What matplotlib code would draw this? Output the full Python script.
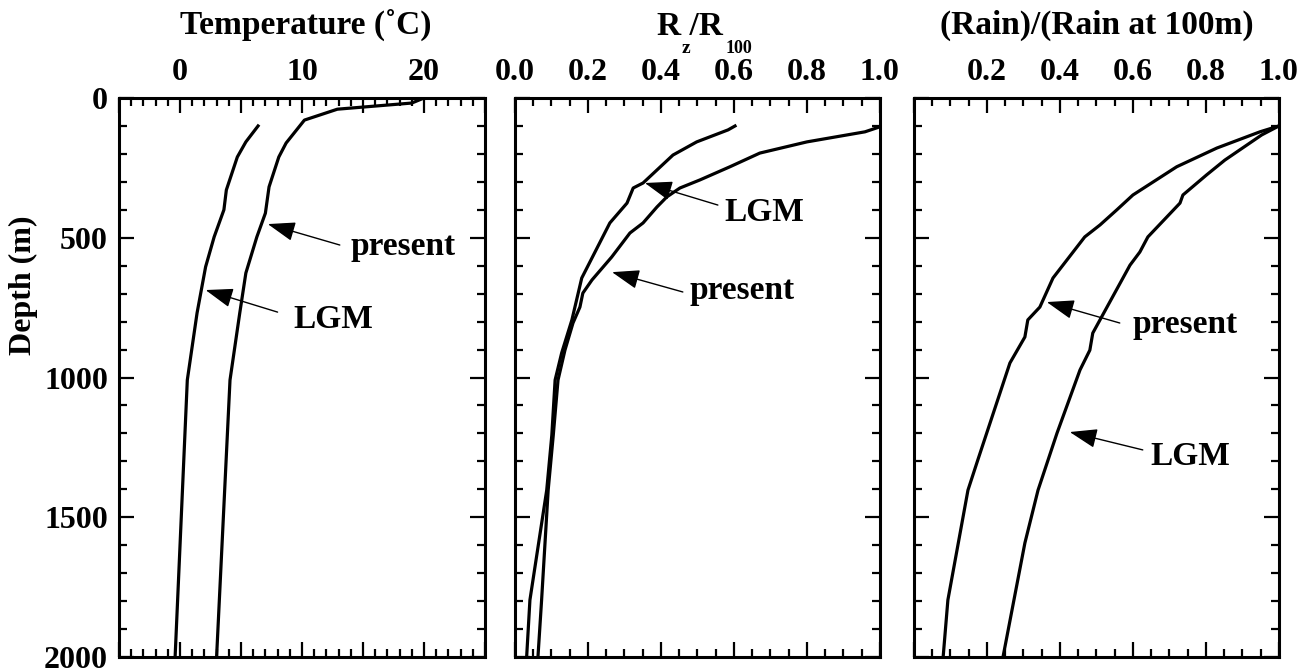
import matplotlib
matplotlib.use('Agg')
import matplotlib.pyplot as plt
from matplotlib.ticker import MultipleLocator

plt.rcParams['font.family'] = ['Liberation Serif', 'DejaVu Serif']
plt.rcParams['font.weight'] = 'bold'

# Temperature profiles (depth in m, temperature in deg C)
temp_present_depth = [0, 18, 40, 79, 161, 211, 318, 412, 497, 626, 769, 1009, 2000]
temp_present = [20.0, 19.0, 12.9, 10.2, 8.7, 8.1, 7.3, 7.0, 6.3, 5.4, 4.9, 4.1, 3.0]
temp_lgm_depth = [100, 157, 211, 329, 400, 497, 604, 769, 1009, 2000]
temp_lgm = [6.4, 5.4, 4.7, 3.8, 3.6, 2.8, 2.1, 1.4, 0.6, -0.4]

# R_z / R_100 profiles
r_present_depth = [103, 121, 157, 197, 246, 293, 322, 354, 390, 447, 483, 569, 651,
                   698, 748, 805, 902, 1009, 1206, 1403, 1796, 2000]
r_present = [1.0, 0.959, 0.800, 0.671, 0.589, 0.507, 0.452, 0.416, 0.389, 0.351, 0.315,
             0.265, 0.211, 0.186, 0.178, 0.159, 0.137, 0.118, 0.105, 0.091, 0.073, 0.063]
r_lgm_depth = [100, 114, 157, 204, 304, 322, 376, 447, 644, 794, 912, 1009, 1206,
               1403, 1796, 2000]
r_lgm = [0.603, 0.584, 0.498, 0.433, 0.351, 0.324, 0.307, 0.260, 0.183, 0.156, 0.128,
         0.110, 0.101, 0.087, 0.041, 0.032]

# Rain / rain at 100 m
rain_present_depth = [100, 121, 179, 246, 347, 400, 454, 497, 644, 748, 794, 855, 948,
                      1295, 1403, 1796, 2000]
rain_present = [1.0, 0.948, 0.830, 0.720, 0.600, 0.556, 0.510, 0.468, 0.381, 0.345,
                0.312, 0.304, 0.263, 0.175, 0.148, 0.093, 0.080]
rain_lgm_depth = [100, 132, 222, 275, 347, 376, 497, 551, 598, 841, 902, 973, 1199,
                  1403, 1592, 2000]
rain_lgm = [1.0, 0.953, 0.852, 0.802, 0.737, 0.729, 0.641, 0.619, 0.592, 0.490, 0.482,
            0.455, 0.392, 0.340, 0.304, 0.244]

fig = plt.figure(figsize=(13.09, 6.69), dpi=100)
ax1 = fig.add_axes([0.0909, 0.0179, 0.2796, 0.8356])
ax2 = fig.add_axes([0.3934, 0.0179, 0.2788, 0.8356])
ax3 = fig.add_axes([0.6982, 0.0179, 0.2788, 0.8356])

lw = 2.3
ax1.plot(temp_present, temp_present_depth, color='black', lw=lw)
ax1.plot(temp_lgm, temp_lgm_depth, color='black', lw=lw)
ax2.plot(r_present, r_present_depth, color='black', lw=lw)
ax2.plot(r_lgm, r_lgm_depth, color='black', lw=lw)
ax3.plot(rain_present, rain_present_depth, color='black', lw=lw)
ax3.plot(rain_lgm, rain_lgm_depth, color='black', lw=lw)

ax1.set_xlim(-5, 25)
ax1.xaxis.set_minor_locator(MultipleLocator(1))
ax2.set_xlim(0, 1.0)
ax2.xaxis.set_minor_locator(MultipleLocator(0.05))
ax3.set_xlim(0, 1.0)
ax3.xaxis.set_minor_locator(MultipleLocator(0.05))

for ax in (ax1, ax2, ax3):
    ax.set_ylim(2000, 0)
    ax.set_yticks([0, 500, 1000, 1500, 2000])
    ax.yaxis.set_minor_locator(MultipleLocator(100))
    for s in ax.spines.values():
        s.set_linewidth(2.2)
    ax.tick_params(which='both', direction='in', top=True, bottom=True, left=True, right=True,
                   labeltop=True, labelbottom=False, width=1.6, labelsize=23)
    ax.tick_params(which='major', length=11, pad=8)
    ax.tick_params(which='minor', length=6)

# tick label text
ax1.set_xticks([-5, 0, 5, 10, 15, 20, 25])
ax1.set_xticklabels(['', '0', '', '10', '', '20', ''])
ax2.set_xticks([0, 0.2, 0.4, 0.6, 0.8, 1.0])
ax2.set_xticklabels(['0.0', '0.2', '0.4', '0.6', '0.8', '1.0'])
ax3.set_xticks([0, 0.2, 0.4, 0.6, 0.8, 1.0])
ax3.set_xticklabels(['', '0.2', '0.4', '0.6', '0.8', '1.0'])
ax1.set_yticklabels(['0', '500', '1000', '1500', '2000'])
ax2.set_yticklabels([])
ax3.set_yticklabels([])

ax1.set_ylabel('Depth (m)', fontsize=23, fontweight='bold')
ax1.yaxis.set_label_coords(-0.222, 0.665)

# panel titles
ax1.text(0.51, 1.115, 'Temperature (\u02daC)', transform=ax1.transAxes, ha='center',
         va='baseline', fontsize=24, fontweight='bold')
ax2.text(0.48, 1.113, 'R /R', transform=ax2.transAxes, ha='center', va='baseline',
         fontsize=24, fontweight='bold')
ax2.text(0.468, 1.080, 'z', transform=ax2.transAxes, ha='center', va='baseline',
         fontsize=14, fontweight='bold')
ax2.text(0.614, 1.080, '100', transform=ax2.transAxes, ha='center', va='baseline',
         fontsize=13, fontweight='bold')
ax3.text(0.5, 1.115, '(Rain)/(Rain at 100m)', transform=ax3.transAxes, ha='center',
         va='baseline', fontsize=24, fontweight='bold')

arrow = dict(arrowstyle='-|>,head_length=1.7,head_width=0.6', color='black', lw=1.0,
             shrinkA=0, shrinkB=0)


def label(ax, text, tip, tail, pos):
    ax.annotate('', xy=tip, xytext=tail, arrowprops=arrow)
    ax.text(pos[0], pos[1], text, ha='left', va='center', fontsize=24, fontweight='bold')


label(ax1, 'present', (7.2, 451), (13.1, 526), (14.0, 533))
label(ax1, 'LGM', (2.1, 687), (8.0, 766), (9.3, 794))
label(ax2, 'LGM', (0.356, 304), (0.556, 383), (0.575, 408))
label(ax2, 'present', (0.266, 623), (0.460, 694), (0.479, 690))
label(ax3, 'present', (0.364, 730), (0.564, 805), (0.600, 812))
label(ax3, 'LGM', (0.427, 1195), (0.627, 1259), (0.647, 1284))

plt.savefig('out.png', dpi=100)
